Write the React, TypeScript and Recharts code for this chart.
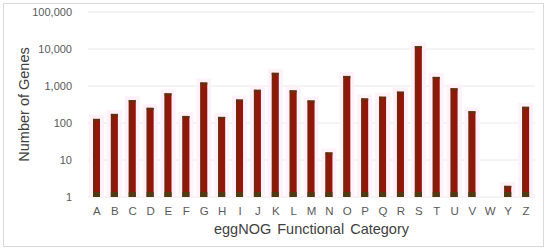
import React from "react";
import { BarChart, Bar, XAxis, YAxis, CartesianGrid, Label } from "recharts";

const categories = ["A","B","C","D","E","F","G","H","I","J","K","L","M","N","O","P","Q","R","S","T","U","V","W","Y","Z"];
const geneCounts: (number | null)[] = [129,176,414,257,632,155,1240,146,430,790,2270,760,405,16,1870,460,513,703,11900,1760,865,207,null,2,274];
const yTicks = [1, 10, 100, 1000, 10000, 100000];

const data = categories.map((c, i) => ({ category: c, genes: geneCounts[i] }));

const FONT = "'Liberation Sans', Arial, sans-serif";

const GlowBar = (props: any) => {
  const { x, y, width, height } = props;
  if (!height || height <= 0 || x == null) return null;
  const cap = Math.min(2, height);
  const bottom = Math.min(5, height);
  return (
    <g>
      <rect x={x - 4} y={y - 4} width={width + 8} height={height + 4} fill="#fff1fa" />
      <rect x={x} y={y} width={width} height={height} fill="#94160a" />
      <rect x={x} y={y} width={2.5} height={height} fill="#6e2a0c" opacity={0.7} />
      <rect x={x} y={y} width={width} height={cap} fill="#5a3510" />
      <rect x={x} y={y + height - bottom} width={width} height={bottom} fill="#4f3a12" />
    </g>
  );
};

const fmt = (v: number) => v.toLocaleString("en-US");

export default function App() {
  return (
    <div style={{ position: "absolute", left: 0, top: 0, width: 550, height: 252, background: "#fff" }}>
      <div
        style={{
          position: "absolute",
          left: 3,
          top: 3,
          width: 541,
          height: 244,
          border: "1px solid #d9d9d9",
          boxSizing: "border-box",
        }}
      />
      <div style={{ position: "absolute", left: 0, top: 0 }}>
        <BarChart
          width={550}
          height={252}
          data={data}
          margin={{ top: 12, right: 15, left: 0, bottom: 0 }}
          barCategoryGap={0}
        >
          <CartesianGrid vertical={false} stroke="#e8e8e8" />
          <XAxis
            dataKey="category"
            axisLine={false}
            tickLine={false}
            tickSize={0}
            tickMargin={10}
            height={55}
            interval={0}
            tick={{ fontSize: 11.5, fill: "#595959", fontFamily: FONT }}
          >
            <Label
              value="eggNOG Functional Category"
              position="insideBottom"
              offset={18}
              style={{ fontSize: 14.5, fill: "#404040", fontFamily: FONT, wordSpacing: 2 }}
            />
          </XAxis>
          <YAxis
            scale="log"
            domain={[1, 100000]}
            ticks={yTicks}
            allowDataOverflow
            axisLine={false}
            tickLine={false}
            tickSize={0}
            tickMargin={16}
            width={88}
            tickFormatter={fmt}
            tick={{ fontSize: 11, fill: "#595959", fontFamily: FONT }}
          >
            <Label
              value="Number of Genes"
              angle={-90}
              position="insideLeft"
              offset={24}
              style={{ fontSize: 14.5, fill: "#404040", fontFamily: FONT, textAnchor: "middle" }}
            />
          </YAxis>
          <Bar dataKey="genes" barSize={7} isAnimationActive={false} shape={<GlowBar />} />
        </BarChart>
      </div>
    </div>
  );
}
